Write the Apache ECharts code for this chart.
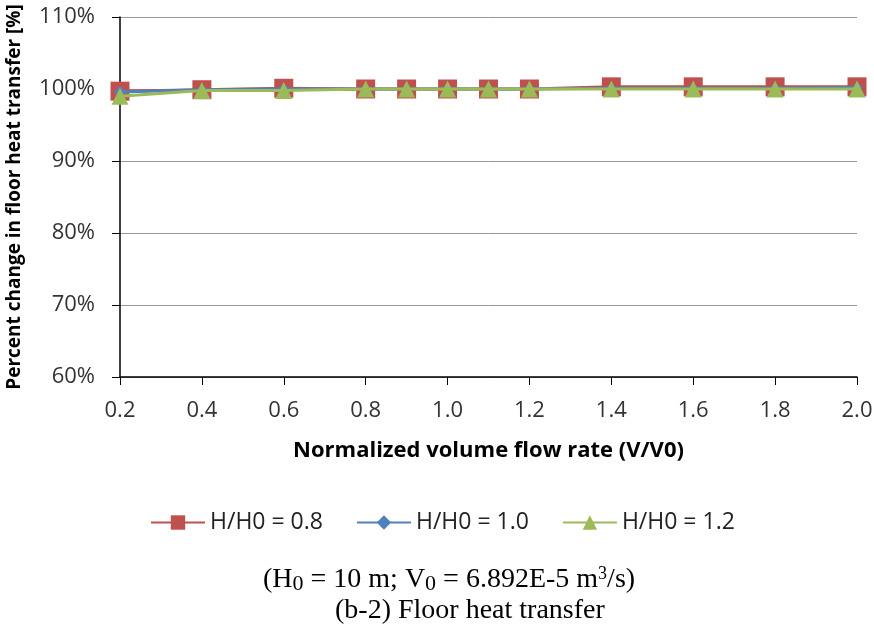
<!DOCTYPE html>
<html><head><meta charset="utf-8">
<script src="https://cdn.jsdelivr.net/npm/echarts@6/dist/echarts.min.js"></script>
<style>html,body{margin:0;padding:0;background:#fff}#c{width:874px;height:628px}</style>
</head><body><div id="c"></div>
<script>
const xValues = [0.2, 0.4, 0.6, 0.8, 0.9, 1.0, 1.1, 1.2, 1.4, 1.6, 1.8, 2.0];
const seriesNames = ['H/H0 = 0.8', 'H/H0 = 1.0', 'H/H0 = 1.2'];
const h08 = [99.7, 99.9, 100.1, 100.0, 100.0, 100.0, 100.0, 100.0, 100.3, 100.3, 100.3, 100.3];
const h10 = [99.6, 99.9, 100.0, 100.0, 100.0, 100.0, 100.0, 100.0, 100.1, 100.1, 100.1, 100.2];
const h12 = [99.0, 99.8, 99.8, 100.0, 100.0, 100.0, 100.0, 100.0, 100.0, 100.0, 100.0, 100.0];
const yTicks = [60, 70, 80, 90, 100, 110];

const font = '"Open Sans", Lato, sans-serif';
const serif = '"Liberation Serif", "Times New Roman", serif';
const colors = ['#C0504D', '#4F81BD', '#9BBB59'];
const symbols = ['rect', 'diamond', 'triangle'];
const sizes = [19, 12, 17];
const data = [h08, h10, h12];

const chart = echarts.init(document.getElementById('c'), null, {renderer: 'canvas'});
chart.setOption({
  animation: false,
  backgroundColor: '#fff',
  grid: {left: 120, right: 17, top: 17, bottom: 251, containLabel: false, outerBoundsMode: 'none'},
  xAxis: {
    type: 'value', min: 0.2, max: 2.0, interval: 0.2,
    name: 'Normalized volume flow rate (V/V0)', nameLocation: 'middle', nameGap: 63,
    nameTextStyle: {fontFamily: font, fontWeight: 'bold', fontSize: 22, color: '#000'},
    axisLine: {lineStyle: {color: '#000', width: 1.5}},
    axisTick: {show: true, length: 8, lineStyle: {color: '#000'}},
    axisLabel: {fontFamily: font, fontSize: 22, color: '#333', margin: 23,
      formatter: v => (Math.round(v * 10) / 10).toFixed(1)},
    splitLine: {show: false}
  },
  yAxis: {
    type: 'value', min: yTicks[0], max: yTicks[yTicks.length - 1], interval: 10,
    name: 'Percent change in floor heat transfer [%]', nameLocation: 'middle', nameGap: 96,
    nameTextStyle: {fontFamily: font, fontWeight: 'bold', fontSize: 19, color: '#000'},
    axisLine: {show: true, lineStyle: {color: '#000', width: 1.5}},
    axisTick: {show: true, length: 8, lineStyle: {color: '#000'}},
    axisLabel: {fontFamily: font, fontSize: 22, color: '#333', margin: 25, formatter: v => v + '%'},
    splitLine: {show: true, lineStyle: {color: '#999', width: 1}}
  },
  legend: {
    top: 506, left: 145, itemGap: 33, itemWidth: 54, itemHeight: 18,
    textStyle: {fontFamily: font, fontSize: 23, color: '#222'},
    data: seriesNames
  },
  title: [{
    left: 258, top: 560,
    text: '(H{s|0} = 10 m; V{s|0} = 6.892E-5 m{p|3}/s)',
    textStyle: {fontFamily: serif, fontSize: 28, fontWeight: 'normal', color: '#000',
      rich: {s: {fontFamily: serif, fontSize: 22, verticalAlign: 'bottom', padding: [10, 0, 0, 0], lineHeight: 30},
             p: {fontFamily: serif, fontSize: 18, verticalAlign: 'top', padding: [0, 0, 8, 0], lineHeight: 30}}}
  }, {
    left: 330, top: 592,
    text: '(b-2) Floor heat transfer',
    textStyle: {fontFamily: serif, fontSize: 28, fontWeight: 'normal', color: '#000'}
  }],
  series: seriesNames.map((n, i) => ({
    name: n, type: 'line',
    data: xValues.map((x, j) => [x, data[i][j]]),
    symbol: symbols[i], symbolSize: sizes[i],
    lineStyle: {color: colors[i], width: 3},
    itemStyle: {color: colors[i]},
    z: 2 + i
  }))
});
</script></body></html>
